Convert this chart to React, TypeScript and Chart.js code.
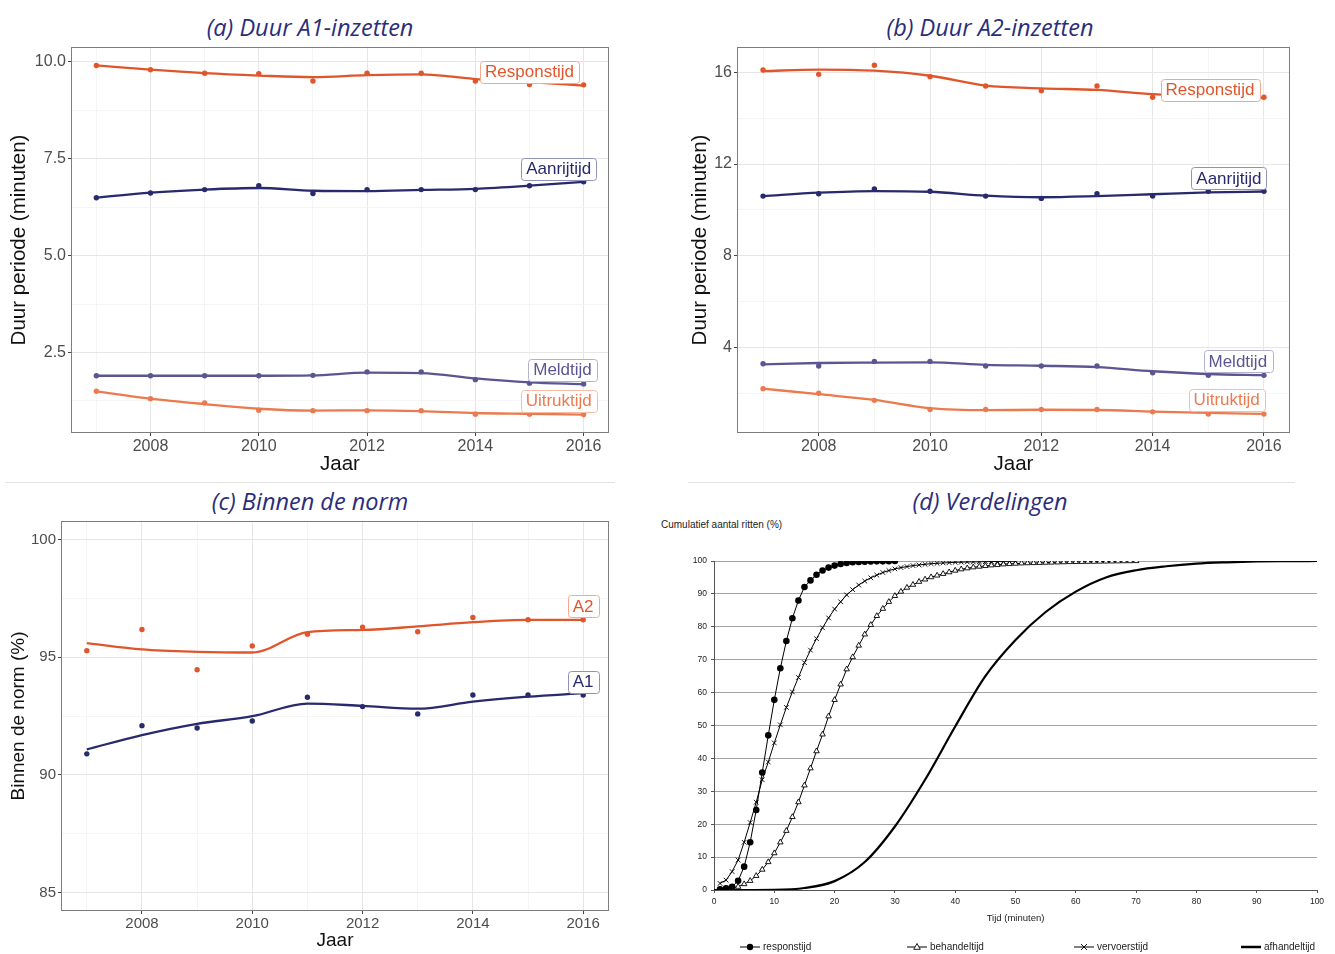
import React, { useEffect, useRef } from "react";
import { Chart, registerables } from "chart.js";

Chart.register(...registerables);

const FONT = "'Liberation Sans', Arial, Helvetica, sans-serif";
Chart.defaults.font.family = FONT;

// ---------- shared x axis (years) ----------
const years = [2007, 2008, 2009, 2010, 2011, 2012, 2013, 2014, 2015, 2016];
const yearLabels = [2008, 2010, 2012, 2014, 2016];

// ---------- panel (a): Duur A1-inzetten ----------
const aResponsPoints = [9.9, 9.79, 9.7, 9.69, 9.5, 9.7, 9.7, 9.5, 9.41, 9.4];
const aResponsTrend = [9.9, 9.79, 9.7, 9.64, 9.6, 9.65, 9.67, 9.55, 9.47, 9.38];
const aAanrijPoints = [6.49, 6.61, 6.7, 6.8, 6.6, 6.7, 6.7, 6.7, 6.8, 6.9];
const aAanrijTrend = [6.49, 6.62, 6.7, 6.74, 6.67, 6.66, 6.69, 6.72, 6.8, 6.9];
const aMeldPoints = [1.9, 1.9, 1.9, 1.9, 1.91, 2.0, 2.0, 1.8, 1.71, 1.69];
const aMeldTrend = [1.9, 1.9, 1.9, 1.9, 1.91, 1.98, 1.97, 1.83, 1.73, 1.68];
const aUitrukPoints = [1.5, 1.31, 1.2, 1.01, 1.0, 1.0, 1.0, 0.91, 0.91, 0.9];
const aUitrukTrend = [1.5, 1.31, 1.17, 1.05, 1.0, 1.01, 0.99, 0.94, 0.92, 0.9];
const aMajorTicks = [2.5, 5.0, 7.5, 10.0];
const aMinorTicks = [1.25, 3.75, 6.25, 8.75];

// ---------- panel (b): Duur A2-inzetten ----------
const bResponsPoints = [16.1, 15.91, 16.31, 15.81, 15.4, 15.2, 15.4, 14.91, 14.87, 14.91];
const bResponsTrend = [16.05, 16.12, 16.07, 15.85, 15.42, 15.3, 15.23, 15.05, 14.95, 14.88];
const bAanrijPoints = [10.6, 10.7, 10.91, 10.81, 10.6, 10.5, 10.7, 10.6, 10.81, 10.81];
const bAanrijTrend = [10.6, 10.75, 10.82, 10.79, 10.62, 10.55, 10.6, 10.68, 10.76, 10.8];
const bMeldPoints = [3.29, 3.19, 3.39, 3.39, 3.19, 3.19, 3.19, 2.89, 2.78, 2.78];
const bMeldTrend = [3.26, 3.32, 3.34, 3.35, 3.24, 3.2, 3.14, 2.96, 2.84, 2.79];
const bUitrukPoints = [2.2, 2.0, 1.69, 1.29, 1.29, 1.29, 1.29, 1.19, 1.09, 1.09];
const bUitrukTrend = [2.2, 1.96, 1.71, 1.35, 1.26, 1.28, 1.27, 1.2, 1.14, 1.1];
const bMajorTicks = [4, 8, 12, 16];
const bMinorTicks = [2, 6, 10, 14];

// ---------- panel (c): Binnen de norm ----------
const cA2Points = [95.28, 96.18, 94.47, 95.48, 95.98, 96.28, 96.08, 96.69, 96.59, 96.59];
const cA2Trend = [95.6, 95.33, 95.23, 95.2, 96.07, 96.16, 96.31, 96.49, 96.59, 96.59];
const cA1Points = [90.89, 92.09, 91.99, 92.29, 93.3, 92.9, 92.59, 93.39, 93.39, 93.39];
const cA1Trend = [91.08, 91.69, 92.17, 92.49, 93.03, 92.93, 92.81, 93.11, 93.32, 93.47];
const cMajorTicks = [85, 90, 95, 100];
const cMinorTicks = [87.5, 92.5, 97.5];

// ---------- panel (d): Verdelingen ----------
const minutes = [
  1, 2, 3, 4, 5, 6, 7, 8, 9, 10, 11, 12, 13, 14, 15, 16, 17, 18, 19, 20,
  21, 22, 23, 24, 25, 26, 27, 28, 29, 30, 31, 32, 33, 34, 35, 36, 37, 38, 39, 40,
  41, 42, 43, 44, 45, 46, 47, 48, 49, 50, 51, 52, 53, 54, 55, 56, 57, 58, 59, 60,
  61, 62, 63, 64, 65, 66, 67, 68, 69, 70,
];
const responstijd = [
  0.2, 0.5, 1.0, 2.8, 7.1, 14.5, 24.3, 35.7, 47.0, 57.8, 67.4, 75.7, 82.6, 88.0, 92.1,
  94.1, 95.8, 97.1, 98.0, 98.6, 99.1, 99.4, 99.6, 99.7, 99.8, 99.85, 99.9, 99.9, 99.95, 100,
];
const vervoerstijd = [
  2.0, 3.0, 5.6, 9.1, 14.5, 20.5, 26.7, 33.5, 38.9, 44.7, 50.2, 55.5, 60.2, 64.6, 69.1,
  72.9, 76.4, 79.7, 82.7, 85.4, 87.6, 89.7, 91.3, 92.7, 93.9, 94.9, 95.7, 96.5, 97.1, 97.6,
  98.0, 98.3, 98.6, 98.8, 99.0, 99.2, 99.3, 99.4, 99.5, 99.6, 99.65, 99.7, 99.72, 99.75, 99.8,
  99.83, 99.86, 99.9, 99.93, 99.95,
];
const behandeltijd = [
  0.1, 0.3, 0.7, 1.0, 1.8, 2.8, 4.3, 6.2, 8.5, 11.2, 14.5, 18.0, 22.2, 26.7, 31.8,
  37.0, 42.2, 47.3, 52.8, 57.8, 62.5, 67.1, 70.8, 74.3, 77.7, 80.6, 83.3, 85.5, 87.6, 89.4,
  90.7, 91.9, 92.8, 93.7, 94.4, 95.1, 95.6, 96.1, 96.6, 97.1, 97.5, 97.8, 98.1, 98.3, 98.5,
  98.7, 98.8, 99.0, 99.1, 99.2, 99.3, 99.35, 99.4, 99.45, 99.5, 99.55, 99.6, 99.65, 99.7, 99.72,
  99.75, 99.78, 99.8, 99.83, 99.86, 99.89, 99.92, 99.95, 99.97, 100,
];
const afhandelMinutes = [0, 5, 10, 15, 20, 25, 30, 35, 40, 45, 50, 55, 60, 65, 70, 75, 80, 85, 90, 95, 100];
const afhandeltijd = [0, 0, 0.05, 0.6, 2.7, 8.5, 19.3, 33.5, 49.7, 65, 76, 84.5, 90.7, 95, 97.2, 98.4, 99.2, 99.6, 99.85, 99.95, 100];
const dTicks = [0, 10, 20, 30, 40, 50, 60, 70, 80, 90, 100];

// ---------- colours ----------
const C_RESP = "#E1552B";
const C_RESP_B = "#F2A98F";
const C_AANR = "#272A6C";
const C_AANR_B = "#9092B8";
const C_MELD = "#5B5692";
const C_MELD_B = "#B3B0D0";
const C_UITR = "#EC7A4F";
const C_UITR_B = "#F6BCA5";

const isIn = (v: number, list: number[]) => list.some((m) => Math.abs(m - v) < 1e-6);

const panelBorder = {
  id: "panelBorder",
  afterDraw(chart: any) {
    const { ctx, chartArea: a } = chart;
    ctx.save();
    ctx.strokeStyle = "#7d7d7d";
    ctx.lineWidth = 1;
    ctx.strokeRect(Math.round(a.left) - 0.5, Math.round(a.top) - 0.5, Math.round(a.width) + 1, Math.round(a.height) + 1);
    ctx.restore();
  },
};

type Lbl = { text: string; x: number; y: number; color: string; border: string };

function boxLabels(labels: Lbl[], size: number) {
  return {
    id: "boxLabels",
    afterDraw(chart: any) {
      const { ctx, scales } = chart;
      ctx.save();
      ctx.font = `${size}px ${FONT}`;
      ctx.textAlign = "center";
      ctx.textBaseline = "middle";
      labels.forEach((l) => {
        const cx = scales.x.getPixelForValue(l.x);
        const cy = scales.y.getPixelForValue(l.y);
        const w = ctx.measureText(l.text).width + 10;
        const h = size + 5;
        ctx.beginPath();
        ctx.roundRect(Math.round(cx - w / 2) + 0.5, Math.round(cy - h / 2) + 0.5, Math.round(w), Math.round(h), 3);
        ctx.fillStyle = "#ffffff";
        ctx.fill();
        ctx.lineWidth = 1;
        ctx.strokeStyle = l.border;
        ctx.stroke();
        ctx.fillStyle = l.color;
        ctx.fillText(l.text, cx, cy + 1);
      });
      ctx.restore();
    },
  };
}

type Series = { name: string; points: number[]; trend: number[]; color: string };

function buildTrend(canvas: HTMLCanvasElement, p: any) {
  const datasets: any[] = [];
  p.series.forEach((s: Series) => {
    datasets.push({
      label: s.name + " trend",
      data: years.map((x, i) => ({ x, y: s.trend[i] })),
      showLine: true,
      borderColor: s.color,
      borderWidth: 2.3,
      pointRadius: 0,
      cubicInterpolationMode: "monotone",
      fill: false,
    });
    datasets.push({
      label: s.name,
      data: years.map((x, i) => ({ x, y: s.points[i] })),
      showLine: false,
      pointRadius: 2.7,
      pointBackgroundColor: s.color,
      pointBorderWidth: 0,
    });
  });
  const allY = [...p.major, ...p.minor].sort((a: number, b: number) => a - b);
  return new Chart(canvas, {
    type: "scatter",
    data: { datasets },
    options: {
      responsive: false,
      animation: false,
      layout: { padding: p.pad },
      plugins: { legend: { display: false }, tooltip: { enabled: false } },
      scales: {
        x: {
          type: "linear",
          min: 2006.55,
          max: 2016.45,
          afterBuildTicks: (s: any) => {
            s.ticks = years.map((v) => ({ value: v }));
          },
          afterFit: (s: any) => {
            s.height = p.xH;
            s.paddingLeft = 0;
            s.paddingRight = 0;
          },
          ticks: {
            autoSkip: false,
            maxRotation: 0,
            color: "#4d4d4d",
            font: { size: p.tickSize },
            padding: 1,
            callback: (v: any) => (isIn(v, yearLabels) ? String(v) : ""),
          },
          grid: {
            color: (c: any) => (isIn(c.tick.value, yearLabels) ? "#e6e6e6" : "#f2f2f2"),
            lineWidth: (c: any) => (isIn(c.tick.value, yearLabels) ? 1 : 0.8),
            tickColor: (c: any) => (isIn(c.tick.value, yearLabels) ? "#444" : "rgba(0,0,0,0)"),
            tickLength: 4,
          },
          border: { display: false },
          title: {
            display: true,
            text: "Jaar",
            color: "#111",
            font: { size: p.titleSize },
            padding: { top: 0, bottom: p.xTitlePad },
          },
        },
        y: {
          type: "linear",
          min: p.yMin,
          max: p.yMax,
          afterBuildTicks: (s: any) => {
            s.ticks = allY.map((v: number) => ({ value: v }));
          },
          afterFit: (s: any) => {
            s.width = p.yW;
            s.paddingTop = 0;
            s.paddingBottom = 0;
          },
          ticks: {
            autoSkip: false,
            color: "#4d4d4d",
            font: { size: p.tickSize },
            padding: 2,
            callback: (v: any) => (isIn(v, p.major) ? p.fmt(v) : ""),
          },
          grid: {
            color: (c: any) => (isIn(c.tick.value, p.major) ? "#e6e6e6" : "#f2f2f2"),
            lineWidth: (c: any) => (isIn(c.tick.value, p.major) ? 1 : 0.8),
            tickColor: (c: any) => (isIn(c.tick.value, p.major) ? "#444" : "rgba(0,0,0,0)"),
            tickLength: 4,
          },
          border: { display: false },
          title: {
            display: true,
            text: p.yTitle,
            color: "#111",
            font: { size: p.titleSize },
            padding: { top: p.yTitlePad, bottom: 0 },
          },
        },
      },
    } as any,
    plugins: [panelBorder, boxLabels(p.labels, 17)],
  });
}

function buildDist(canvas: HTMLCanvasElement) {
  const legendItems = [
    { text: "responstijd", marker: "circle", lw: 1 },
    { text: "behandeltijd", marker: "triangle", lw: 1 },
    { text: "vervoerstijd", marker: "cross", lw: 1 },
    { text: "afhandeltijd", marker: "none", lw: 2.5 },
  ];
  const drawMarker = (ctx: any, m: string, x: number, y: number) => {
    ctx.beginPath();
    if (m === "circle") {
      ctx.arc(x, y, 3.2, 0, Math.PI * 2);
      ctx.fillStyle = "#000";
      ctx.fill();
    } else if (m === "triangle") {
      ctx.moveTo(x, y - 3.5);
      ctx.lineTo(x + 3.3, y + 2.3);
      ctx.lineTo(x - 3.3, y + 2.3);
      ctx.closePath();
      ctx.fillStyle = "#fff";
      ctx.fill();
      ctx.lineWidth = 0.9;
      ctx.stroke();
    } else if (m === "cross") {
      ctx.moveTo(x - 3, y - 3);
      ctx.lineTo(x + 3, y + 3);
      ctx.moveTo(x + 3, y - 3);
      ctx.lineTo(x - 3, y + 3);
      ctx.lineWidth = 0.9;
      ctx.stroke();
    }
  };
  const legendPlugin = {
    id: "dLegend",
    afterDraw(chart: any) {
      const { ctx, chartArea } = chart;
      const y = 432;
      ctx.save();
      ctx.font = `10px ${FONT}`;
      ctx.textBaseline = "middle";
      ctx.textAlign = "left";
      legendItems.forEach((it, i) => {
        const x0 = chartArea.left + 26 + i * 167;
        ctx.strokeStyle = "#000";
        ctx.lineWidth = it.lw;
        ctx.beginPath();
        ctx.moveTo(x0, y);
        ctx.lineTo(x0 + 20, y);
        ctx.stroke();
        drawMarker(ctx, it.marker, x0 + 10, y);
        ctx.fillStyle = "#222";
        ctx.fillText(it.text, x0 + 23, y + 0.5);
      });
      ctx.restore();
    },
  };
  return new Chart(canvas, {
    type: "scatter",
    data: {
      datasets: [
        {
          label: "responstijd",
          data: responstijd.map((y, i) => ({ x: minutes[i], y })),
          showLine: true,
          borderColor: "#000",
          borderWidth: 1,
          pointStyle: "circle",
          pointRadius: 3.3,
          pointBackgroundColor: "#000",
          pointBorderColor: "#000",
          pointBorderWidth: 0,
        },
        {
          label: "vervoerstijd",
          data: vervoerstijd.map((y, i) => ({ x: minutes[i], y })),
          showLine: true,
          borderColor: "#000",
          borderWidth: 1,
          pointStyle: "crossRot",
          pointRadius: 3.3,
          pointBorderColor: "#000",
          pointBorderWidth: 0.9,
        },
        {
          label: "behandeltijd",
          data: behandeltijd.map((y, i) => ({ x: minutes[i], y })),
          showLine: true,
          borderColor: "#000",
          borderWidth: 1,
          pointStyle: "triangle",
          pointRadius: 3.2,
          pointBackgroundColor: "#fff",
          pointBorderColor: "#000",
          pointBorderWidth: 0.9,
        },
        {
          label: "afhandeltijd",
          data: afhandeltijd.map((y, i) => ({ x: afhandelMinutes[i], y })),
          showLine: true,
          borderColor: "#000",
          borderWidth: 2.2,
          pointRadius: 0,
          cubicInterpolationMode: "monotone",
        },
      ],
    },
    options: {
      responsive: false,
      animation: false,
      layout: { padding: { top: 46, right: 18, left: 0, bottom: 0 } },
      plugins: { legend: { display: false }, tooltip: { enabled: false } },
      scales: {
        x: {
          type: "linear",
          min: 0,
          max: 100,
          afterBuildTicks: (s: any) => {
            s.ticks = dTicks.map((v) => ({ value: v }));
          },
          afterFit: (s: any) => {
            s.height = 64;
            s.paddingLeft = 0;
            s.paddingRight = 0;
          },
          ticks: { color: "#222", font: { size: 8.5 }, padding: 4, maxRotation: 0, autoSkip: false },
          grid: { drawOnChartArea: false, drawTicks: true, tickLength: 3, color: "#555" },
          border: { display: true, color: "#555", width: 1 },
          title: {
            display: true,
            text: "Tijd (minuten)",
            color: "#222",
            font: { size: 9.5 },
            padding: { top: 0, bottom: 30 },
          },
        },
        y: {
          type: "linear",
          min: 0,
          max: 100,
          afterBuildTicks: (s: any) => {
            s.ticks = dTicks.map((v) => ({ value: v }));
          },
          afterFit: (s: any) => {
            s.width = 64;
            s.paddingTop = 0;
            s.paddingBottom = 0;
          },
          ticks: { color: "#222", font: { size: 8.5 }, padding: 4, autoSkip: false },
          grid: { color: "#a3a3a3", lineWidth: 1, tickLength: 3, tickColor: "#555" },
          border: { display: true, color: "#555", width: 1 },
        },
      },
    } as any,
    plugins: [legendPlugin],
  });
}

const titleStyle = (left: number, top: number, width: number): React.CSSProperties => ({
  position: "absolute",
  left,
  top,
  width,
  textAlign: "center",
  fontFamily: "'Open Sans', 'Noto Sans', sans-serif",
  fontStyle: "italic",
  fontSize: 23.5,
  lineHeight: "30px",
  color: "#2B2D7C",
  whiteSpace: "nowrap",
});

export default function App() {
  const refA = useRef<HTMLCanvasElement>(null);
  const refB = useRef<HTMLCanvasElement>(null);
  const refC = useRef<HTMLCanvasElement>(null);
  const refD = useRef<HTMLCanvasElement>(null);

  useEffect(() => {
    const charts: Chart[] = [];
    if (refA.current) {
      charts.push(
        buildTrend(refA.current, {
          series: [
            { name: "Responstijd", points: aResponsPoints, trend: aResponsTrend, color: C_RESP },
            { name: "Aanrijtijd", points: aAanrijPoints, trend: aAanrijTrend, color: C_AANR },
            { name: "Meldtijd", points: aMeldPoints, trend: aMeldTrend, color: C_MELD },
            { name: "Uitruktijd", points: aUitrukPoints, trend: aUitrukTrend, color: C_UITR },
          ],
          yMin: 0.45,
          yMax: 10.35,
          major: aMajorTicks,
          minor: aMinorTicks,
          fmt: (v: number) => v.toFixed(1),
          yTitle: "Duur periode (minuten)",
          yW: 72,
          xH: 48,
          pad: { top: 8, right: 7, left: 0, bottom: 0 },
          tickSize: 16,
          titleSize: 20.5,
          yTitlePad: 7,
          xTitlePad: 3,
          labels: [
            { text: "Responstijd", x: 2015.0, y: 9.74, color: C_RESP, border: C_RESP_B },
            { text: "Aanrijtijd", x: 2015.54, y: 7.24, color: C_AANR, border: C_AANR_B },
            { text: "Meldtijd", x: 2015.61, y: 2.06, color: C_MELD, border: C_MELD_B },
            { text: "Uitruktijd", x: 2015.54, y: 1.26, color: C_UITR, border: C_UITR_B },
          ],
        })
      );
    }
    if (refB.current) {
      charts.push(
        buildTrend(refB.current, {
          series: [
            { name: "Responstijd", points: bResponsPoints, trend: bResponsTrend, color: C_RESP },
            { name: "Aanrijtijd", points: bAanrijPoints, trend: bAanrijTrend, color: C_AANR },
            { name: "Meldtijd", points: bMeldPoints, trend: bMeldTrend, color: C_MELD },
            { name: "Uitruktijd", points: bUitrukPoints, trend: bUitrukTrend, color: C_UITR },
          ],
          yMin: 0.31,
          yMax: 17.06,
          major: bMajorTicks,
          minor: bMinorTicks,
          fmt: (v: number) => String(v),
          yTitle: "Duur periode (minuten)",
          yW: 58,
          xH: 48,
          pad: { top: 8, right: 11, left: 0, bottom: 0 },
          tickSize: 16,
          titleSize: 20.5,
          yTitlePad: 8,
          xTitlePad: 3,
          labels: [
            { text: "Responstijd", x: 2015.03, y: 15.24, color: C_RESP, border: C_RESP_B },
            { text: "Aanrijtijd", x: 2015.37, y: 11.39, color: C_AANR, border: C_AANR_B },
            { text: "Meldtijd", x: 2015.53, y: 3.41, color: C_MELD, border: C_MELD_B },
            { text: "Uitruktijd", x: 2015.33, y: 1.72, color: C_UITR, border: C_UITR_B },
          ],
        })
      );
    }
    if (refC.current) {
      charts.push(
        buildTrend(refC.current, {
          series: [
            { name: "A2", points: cA2Points, trend: cA2Trend, color: C_RESP },
            { name: "A1", points: cA1Points, trend: cA1Trend, color: C_AANR },
          ],
          yMin: 84.25,
          yMax: 100.75,
          major: cMajorTicks,
          minor: cMinorTicks,
          fmt: (v: number) => String(v),
          yTitle: "Binnen de norm (%)",
          yW: 62,
          xH: 44,
          pad: { top: 7, right: 7, left: 0, bottom: 0 },
          tickSize: 15,
          titleSize: 19,
          yTitlePad: 7,
          xTitlePad: 2,
          labels: [
            { text: "A2", x: 2016.0, y: 97.18, color: C_RESP, border: C_RESP_B },
            { text: "A1", x: 2016.0, y: 93.96, color: C_AANR, border: C_AANR_B },
          ],
        })
      );
    }
    if (refD.current) charts.push(buildDist(refD.current));
    return () => charts.forEach((c) => c.destroy());
  }, []);

  return (
    <div style={{ position: "absolute", left: 0, top: 0, width: 1335, height: 954, background: "#fff", overflow: "hidden" }}>
      <div style={titleStyle(0, 12, 620)}>(a) Duur A1-inzetten</div>
      <div style={titleStyle(680, 12, 620)}>(b) Duur A2-inzetten</div>
      <div style={titleStyle(0, 486, 620)}>(c) Binnen de norm</div>
      <div style={titleStyle(680, 486, 620)}>(d) Verdelingen</div>
      <div style={{ position: "absolute", left: 5, top: 482, width: 610, height: 1, background: "#e3e3e3" }} />
      <div style={{ position: "absolute", left: 688, top: 482, width: 607, height: 1, background: "#e3e3e3" }} />
      <div
        style={{
          position: "absolute",
          left: 661,
          top: 519,
          fontFamily: FONT,
          fontSize: 10,
          lineHeight: "12px",
          color: "#222",
          whiteSpace: "nowrap",
        }}
      >
        Cumulatief aantal ritten (%)
      </div>
      <canvas ref={refA} width={615} height={440} style={{ position: "absolute", left: 0, top: 40 }} />
      <canvas ref={refB} width={620} height={440} style={{ position: "absolute", left: 680, top: 40 }} />
      <canvas ref={refC} width={615} height={439} style={{ position: "absolute", left: 0, top: 515 }} />
      <canvas ref={refD} width={685} height={439} style={{ position: "absolute", left: 650, top: 515 }} />
    </div>
  );
}
